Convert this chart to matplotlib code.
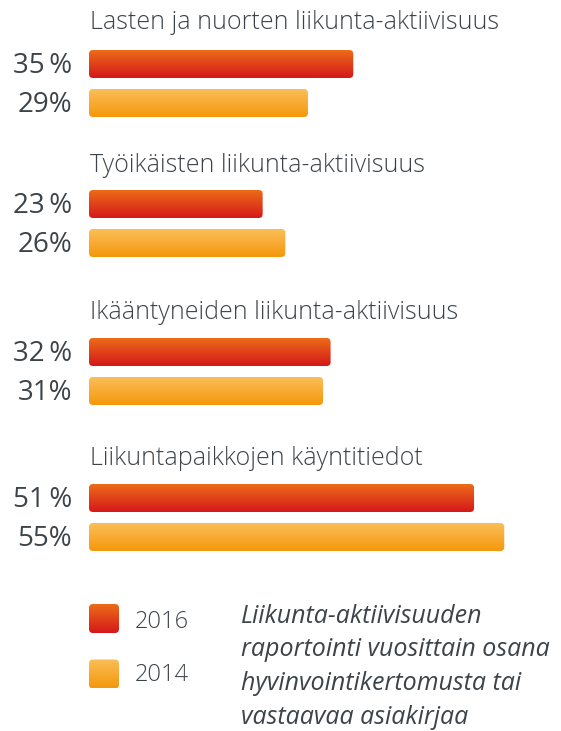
import numpy as np
import matplotlib
matplotlib.use("Agg")
import matplotlib.pyplot as plt
from matplotlib.patches import FancyBboxPatch
from matplotlib.colors import LinearSegmentedColormap

# data
categories = [
    "Lasten ja nuorten liikunta-aktiivisuus",
    "Työikäisten liikunta-aktiivisuus",
    "Ikääntyneiden liikunta-aktiivisuus",
    "Liikuntapaikkojen käyntitiedot",
]
vals_2016 = [35, 23, 32, 51]
vals_2014 = [29, 26, 31, 55]
labels_2016 = ["35\u2009%", "23\u2009%", "32\u2009%", "51\u2009%"]
labels_2014 = ["29%", "26%", "31%", "55%"]
years = ["2016", "2014"]
note_lines = [
    "Liikunta-aktiivisuuden",
    "raportointi vuosittain osana",
    "hyvinvointikertomusta tai",
    "vastaavaa asiakirjaa",
]

# layout (pixel rows from the top)
W, H = 561, 731
PX = 7.55          # pixels per percent
X0 = 89            # pixel column of 0 %
title_base = [29, 172, 319, 465]
y_2016 = [64, 204, 352, 498]
y_2014 = [103, 243, 391, 537]
bar_h = 28
txt = "#3d4449"

red = LinearSegmentedColormap.from_list("red", ["#ec6c18", "#d5181a"])
orange = LinearSegmentedColormap.from_list("orange", ["#fbbe58", "#f4980c"])

plt.rcParams["font.family"] = ["Open Sans", "DejaVu Sans"]

fig = plt.figure(figsize=(W / 100, H / 100), dpi=100)
ax = fig.add_axes([0, 0, 1, 1])
ax.set_xlim(-X0 / PX, (W - X0) / PX)
ax.set_ylim(H, 0)
ax.axis("off")

grad = np.linspace(0, 1, 100).reshape(-1, 1)


def rbar(x0, width, yc, h, cmap, radius=4):
    patch = FancyBboxPatch((x0, yc - h / 2), width, h,
                           boxstyle=f"round,pad=0,rounding_size={radius / PX}",
                           mutation_aspect=PX, facecolor="none",
                           edgecolor="none", transform=ax.transData)
    ax.add_patch(patch)
    im = ax.imshow(grad, cmap=cmap, aspect="auto", origin="upper",
                   extent=[x0, x0 + width, yc + h / 2, yc - h / 2],
                   interpolation="bilinear")
    im.set_clip_path(patch)


for i, cat in enumerate(categories):
    ax.text(0.1, title_base[i], cat, fontsize=18, color=txt, va="baseline",
            ha="left", fontweight="light")
    rbar(0, vals_2016[i], y_2016[i], bar_h, red)
    rbar(0, vals_2014[i], y_2014[i], bar_h, orange)
    ax.text(-17 / PX, y_2016[i] + 9, labels_2016[i], fontsize=20, color=txt,
            va="baseline", ha="right")
    ax.text(-17 / PX, y_2014[i] + 9, labels_2014[i], fontsize=20, color=txt,
            va="baseline", ha="right")

# legend
leg_y = [618.5, 674]
leg_base = [628, 681]
for yc, yb, cmap, yr in zip(leg_y, leg_base, [red, orange], years):
    rbar(0, 30 / PX, yc, 29, cmap)
    ax.text(46 / PX, yb, yr, fontsize=17, color=txt, va="baseline",
            ha="left", fontweight="light")

# note
note_base = [623, 656, 690, 724]
for line, yb in zip(note_lines, note_base):
    ax.text(152 / PX, yb, line, fontsize=18, color=txt, style="italic",
            fontweight="medium", va="baseline", ha="left")

fig.savefig("out.png", dpi=100)
